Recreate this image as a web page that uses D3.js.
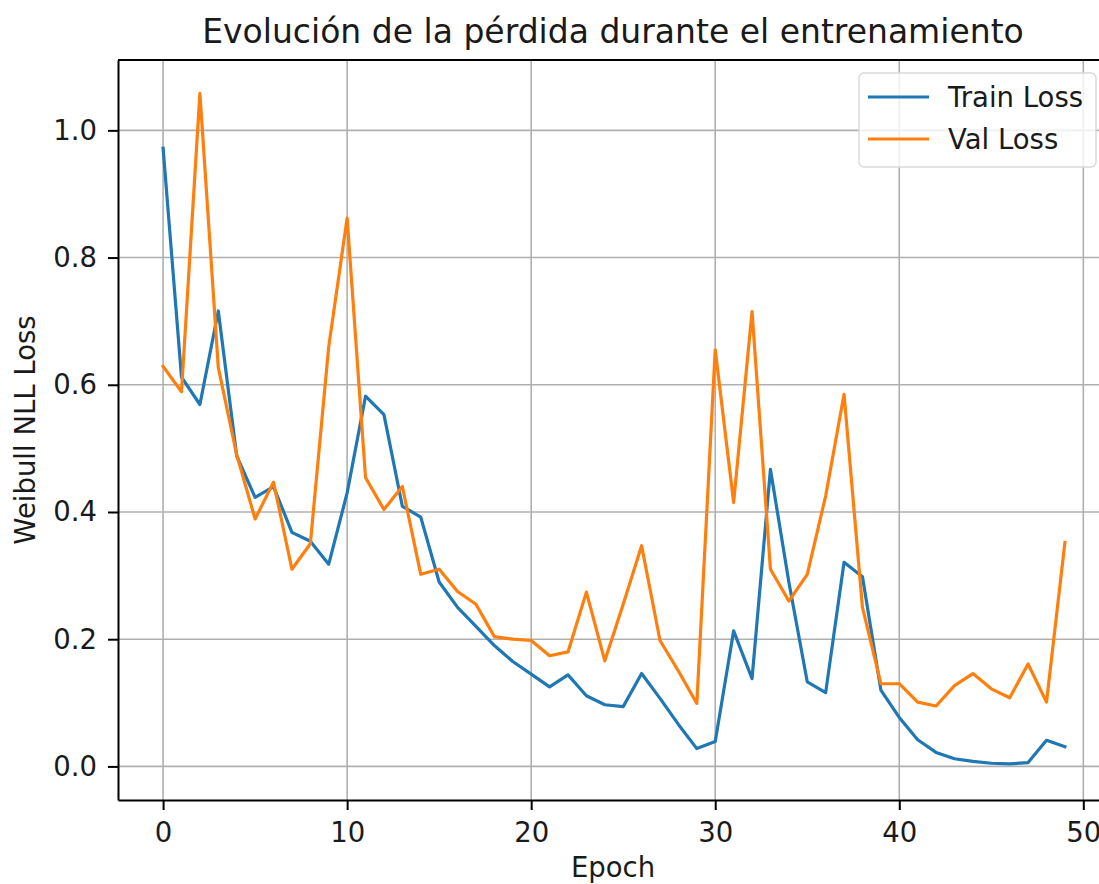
<!DOCTYPE html>
<html>
<head>
<meta charset="utf-8">
<script src="https://cdn.jsdelivr.net/npm/d3@7"></script>
<style>
    body { margin: 0; background: #fff; }
    svg { display: block; font-family: "DejaVu Sans", sans-serif; }
</style>
</head>
<body>
<svg id="chart" width="1099" height="884"></svg>
<script>
// Epoch indices and losses
var epochs = d3.range(0, 50);

var trainLoss = [
    0.972, 0.612, 0.569, 0.716, 0.488, 0.423, 0.44, 0.368, 0.354, 0.318,
    0.43, 0.582, 0.553, 0.409, 0.392, 0.29, 0.25, 0.22, 0.19, 0.165,
    0.145, 0.125, 0.144, 0.111, 0.097, 0.094, 0.146, 0.107, 0.066, 0.028,
    0.039, 0.213, 0.138, 0.467, 0.29, 0.133, 0.116, 0.321, 0.298, 0.12,
    0.077, 0.042, 0.022, 0.012, 0.008, 0.005, 0.004, 0.006, 0.041, 0.031
];

var valLoss = [
    0.629, 0.589, 1.058, 0.627, 0.49, 0.389, 0.447, 0.31, 0.35, 0.66,
    0.862, 0.454, 0.404, 0.44, 0.302, 0.31, 0.275, 0.255, 0.204, 0.2,
    0.198, 0.174, 0.18, 0.274, 0.166, 0.255, 0.347, 0.198, 0.15, 0.099,
    0.655, 0.415, 0.715, 0.31, 0.26, 0.302, 0.425, 0.585, 0.25, 0.13,
    0.13, 0.101, 0.095, 0.127, 0.146, 0.122, 0.108, 0.161, 0.101, 0.352
];

var seriesNames = ["Train Loss", "Val Loss"];
var seriesColors = ["#1f77b4", "#ff7f0e"];
var xTicks = [0, 10, 20, 30, 40, 50];
var yTicks = [0.0, 0.2, 0.4, 0.6, 0.8, 1.0];

var svg = d3.select("#chart"),
    margin = {left: 118, top: 60, bottom: 84},
    plotRight = 1110,
    height = 884 - margin.top - margin.bottom,
    labelSize = "27.5px",
    textColor = "#1a1a1a";

var x = d3.scaleLinear().domain([-2.45, 51.45]).range([margin.left, plotRight]);
var y = d3.scaleLinear().domain([-0.0528, 1.1106]).range([margin.top + height, margin.top]);

var g = svg.append("g");

// Grid
g.append("g").selectAll("line").data(xTicks).join("line")
    .attr("x1", function (d) { return x(d); }).attr("x2", function (d) { return x(d); })
    .attr("y1", margin.top).attr("y2", margin.top + height)
    .attr("stroke", "#b0b0b0").attr("stroke-width", 1.6);
g.append("g").selectAll("line").data(yTicks).join("line")
    .attr("x1", margin.left).attr("x2", plotRight)
    .attr("y1", function (d) { return y(d); }).attr("y2", function (d) { return y(d); })
    .attr("stroke", "#b0b0b0").attr("stroke-width", 1.6);

// Lines
var line = d3.line()
    .x(function (d, i) { return x(epochs[i]); })
    .y(function (d) { return y(d); });

[trainLoss, valLoss].forEach(function (values, k) {
    g.append("path")
        .datum(values)
        .attr("d", line)
        .attr("fill", "none")
        .attr("stroke", seriesColors[k])
        .attr("stroke-width", 3.2)
        .attr("stroke-linejoin", "round")
        .attr("stroke-linecap", "square");
});

// Axes
var xAxis = d3.axisBottom(x).tickValues(xTicks).tickSize(10).tickSizeOuter(0)
    .tickPadding(12).tickFormat(d3.format("d"));
var yAxis = d3.axisLeft(y).tickValues(yTicks).tickSize(10).tickSizeOuter(0)
    .tickPadding(11).tickFormat(d3.format(".1f"));

var gx = svg.append("g").attr("transform", "translate(0," + (margin.top + height) + ")").call(xAxis);
var gy = svg.append("g").attr("transform", "translate(" + margin.left + ",0)").call(yAxis);

[gx, gy].forEach(function (ax) {
    ax.select(".domain").attr("stroke", "#000").attr("stroke-width", 2);
    ax.selectAll(".tick line").attr("stroke", "#000").attr("stroke-width", 2);
    ax.selectAll(".tick text").attr("fill", textColor).style("font-size", labelSize)
        .style("font-family", "DejaVu Sans");
});

// top and right spines
svg.append("line").attr("x1", margin.left).attr("x2", plotRight)
    .attr("y1", margin.top).attr("y2", margin.top)
    .attr("stroke", "#000").attr("stroke-width", 2);
svg.append("line").attr("x1", plotRight).attr("x2", plotRight)
    .attr("y1", margin.top).attr("y2", margin.top + height)
    .attr("stroke", "#000").attr("stroke-width", 2);

// Title and labels
svg.append("text")
    .attr("x", 613).attr("y", 43)
    .attr("text-anchor", "middle")
    .style("font-size", "33px").attr("fill", textColor)
    .text("Evolución de la pérdida durante el entrenamiento");

svg.append("text")
    .attr("x", 613).attr("y", 877)
    .attr("text-anchor", "middle")
    .style("font-size", labelSize).attr("fill", textColor)
    .text("Epoch");

svg.append("text")
    .attr("transform", "translate(35," + (margin.top + height / 2) + ") rotate(-90)")
    .attr("text-anchor", "middle")
    .style("font-size", labelSize).attr("fill", textColor)
    .text("Weibull NLL Loss");

// Legend
var legend = svg.append("g").attr("transform", "translate(859,73)");
legend.append("rect")
    .attr("width", 237).attr("height", 94).attr("rx", 5)
    .attr("fill", "#fff").attr("fill-opacity", 0.8)
    .attr("stroke", "#d9d9d9").attr("stroke-width", 1.5);

seriesNames.forEach(function (name, i) {
    var ly = 24 + i * 42;
    legend.append("line")
        .attr("x1", 9).attr("x2", 70)
        .attr("y1", ly).attr("y2", ly)
        .attr("stroke", seriesColors[i]).attr("stroke-width", 3.2);
    legend.append("text")
        .attr("x", 89).attr("y", ly)
        .attr("dominant-baseline", "central")
        .style("font-size", labelSize).attr("fill", textColor)
        .text(name);
});
</script>
</body>
</html>
